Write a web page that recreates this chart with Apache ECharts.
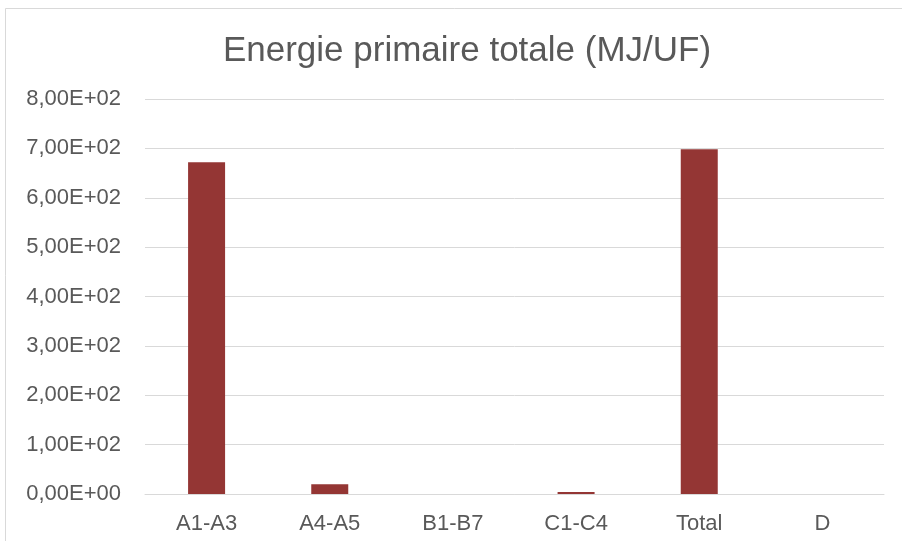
<!DOCTYPE html>
<html lang="fr">
<head>
    <meta charset="UTF-8">
    <title>Energie primaire totale</title>
    <script src="https://cdn.jsdelivr.net/npm/echarts@6/dist/echarts.min.js"></script>
    <style>
        html, body { margin: 0; padding: 0; background: #fff; }
        #chart1 { width: 902px; height: 541px; }
    </style>
</head>
<body>
<div id="chart1"></div>
<script>
    // donnees
    var categories = ['A1-A3', 'A4-A5', 'B1-B7', 'C1-C4', 'Total', 'D'];
    var values = [672, 20, 0, 4, 698, 0];
    var yTicks = [0, 100, 200, 300, 400, 500, 600, 700, 800];

    function sci(v) {
        if (v === 0) return '0,00E+00';
        var e = Math.floor(Math.log10(Math.abs(v)));
        var m = (v / Math.pow(10, e)).toFixed(2).replace('.', ',');
        return m + 'E' + (e < 0 ? '-' : '+') + (Math.abs(e) < 10 ? '0' : '') + Math.abs(e);
    }

    var myChart = echarts.init(document.getElementById('chart1'), null, {renderer: 'canvas'});
    var option = {
        backgroundColor: '#fff',
        animation: false,
        title: {
            text: 'Energie primaire totale (MJ/UF)',
            left: 462,
            top: 29,
            textAlign: 'center',
            textStyle: {
                fontFamily: 'Liberation Sans, Arial',
                fontSize: 35,
                fontWeight: 'normal',
                color: '#595959'
            }
        },
        graphic: [{
            type: 'rect',
            shape: {x: 5.5, y: 8.5, width: 910, height: 560},
            style: {fill: 'none', stroke: '#d9d9d9', lineWidth: 1}
        }],
        grid: {
            left: 145,
            right: 18,
            top: 99,
            bottom: 47
        },
        xAxis: {
            type: 'category',
            data: categories,
            axisLine: {show: true, lineStyle: {color: '#d9d9d9', width: 1}},
            axisTick: {show: false},
            axisLabel: {
                margin: 19,
                fontFamily: 'Liberation Sans, Arial',
                fontSize: 22,
                color: '#595959'
            }
        },
        yAxis: {
            type: 'value',
            min: yTicks[0],
            max: yTicks[yTicks.length - 1],
            interval: 100,
            axisLine: {show: false},
            axisTick: {show: false},
            splitLine: {lineStyle: {color: '#d9d9d9', width: 1}},
            axisLabel: {
                margin: 24,
                fontFamily: 'Liberation Sans, Arial',
                fontSize: 22,
                color: '#595959',
                formatter: sci
            }
        },
        series: [{
            type: 'bar',
            data: values,
            barWidth: 37,
            itemStyle: {color: '#943634'}
        }]
    };
    myChart.setOption(option);
</script>
</body>
</html>
